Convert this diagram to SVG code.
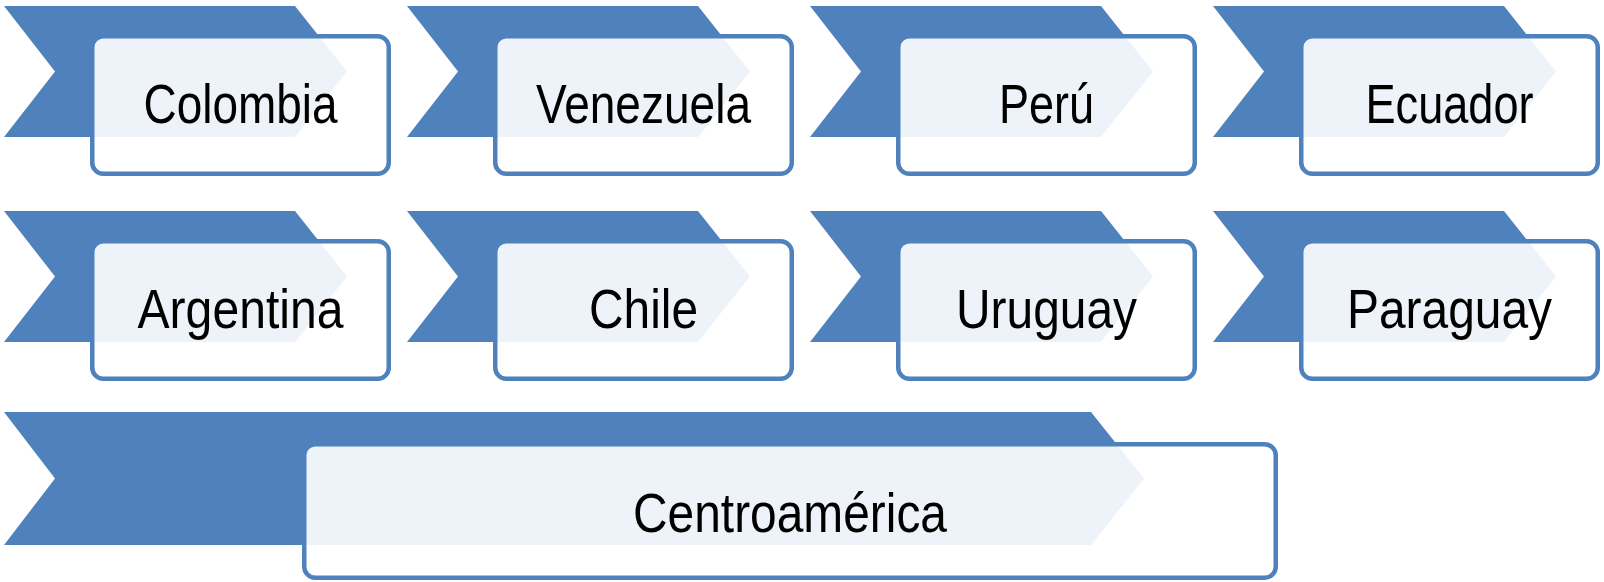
<svg xmlns="http://www.w3.org/2000/svg" width="1604" height="582" viewBox="0 0 1604 582">
<style>
.chev{fill:#4F81BD;}
.box{fill:#FFFFFF;fill-opacity:0.9;stroke:#4F81BD;stroke-width:4.5;}
.lbl{font-family:"Liberation Sans",Arial,sans-serif;font-size:56px;fill:#000000;text-anchor:middle;}
</style>
<rect width="1604" height="582" fill="#FFFFFF"/>
<g id="colombia">
<polygon class="chev" points="4,6 295,6 347,71.5 295,137 4,137 55,71.5"/>
<rect class="box" x="92.25" y="36.25" width="296.5" height="137.5" rx="11"/>
<text class="lbl" x="240.5" y="123" textLength="194" lengthAdjust="spacingAndGlyphs">Colombia</text>
</g>
<g id="venezuela">
<polygon class="chev" points="407,6 698,6 750,71.5 698,137 407,137 458,71.5"/>
<rect class="box" x="495.25" y="36.25" width="296.5" height="137.5" rx="11"/>
<text class="lbl" x="643.5" y="123" textLength="215" lengthAdjust="spacingAndGlyphs">Venezuela</text>
</g>
<g id="peru">
<polygon class="chev" points="810,6 1101,6 1153,71.5 1101,137 810,137 861,71.5"/>
<rect class="box" x="898.25" y="36.25" width="296.5" height="137.5" rx="11"/>
<text class="lbl" x="1046.5" y="123" textLength="95" lengthAdjust="spacingAndGlyphs">Perú</text>
</g>
<g id="ecuador">
<polygon class="chev" points="1213,6 1504,6 1556,71.5 1504,137 1213,137 1264,71.5"/>
<rect class="box" x="1301.25" y="36.25" width="296.5" height="137.5" rx="11"/>
<text class="lbl" x="1449.5" y="123" textLength="168" lengthAdjust="spacingAndGlyphs">Ecuador</text>
</g>
<g id="argentina">
<polygon class="chev" points="4,211 295,211 347,276.5 295,342 4,342 55,276.5"/>
<rect class="box" x="92.25" y="241.25" width="296.5" height="137.5" rx="11"/>
<text class="lbl" x="240.5" y="328" textLength="206" lengthAdjust="spacingAndGlyphs">Argentina</text>
</g>
<g id="chile">
<polygon class="chev" points="407,211 698,211 750,276.5 698,342 407,342 458,276.5"/>
<rect class="box" x="495.25" y="241.25" width="296.5" height="137.5" rx="11"/>
<text class="lbl" x="643.5" y="328" textLength="109" lengthAdjust="spacingAndGlyphs">Chile</text>
</g>
<g id="uruguay">
<polygon class="chev" points="810,211 1101,211 1153,276.5 1101,342 810,342 861,276.5"/>
<rect class="box" x="898.25" y="241.25" width="296.5" height="137.5" rx="11"/>
<text class="lbl" x="1046.5" y="328" textLength="181" lengthAdjust="spacingAndGlyphs">Uruguay</text>
</g>
<g id="paraguay">
<polygon class="chev" points="1213,211 1504,211 1556,276.5 1504,342 1213,342 1264,276.5"/>
<rect class="box" x="1301.25" y="241.25" width="296.5" height="137.5" rx="11"/>
<text class="lbl" x="1449.5" y="328" textLength="205" lengthAdjust="spacingAndGlyphs">Paraguay</text>
</g>
<g id="centroamerica">
<polygon class="chev" points="4,412 1091,412 1144,478.5 1091,545 4,545 55,478.5"/>
<rect class="box" x="304.25" y="444.25" width="971.5" height="133.5" rx="11"/>
<text class="lbl" x="790" y="531.5" textLength="314" lengthAdjust="spacingAndGlyphs">Centroamérica</text>
</g>
<g id="connectors"></g>
</svg>
